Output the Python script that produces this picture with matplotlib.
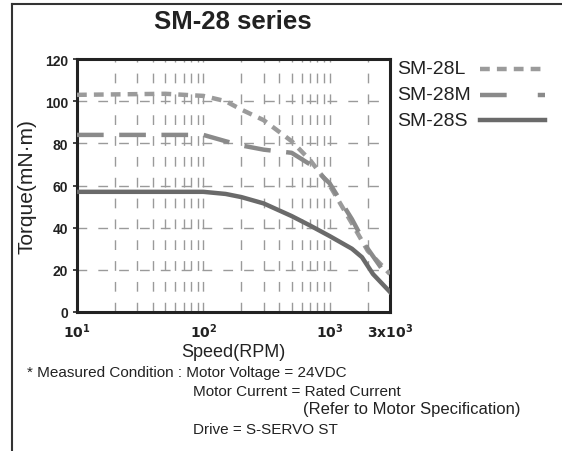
import matplotlib
matplotlib.use("Agg")
import matplotlib.pyplot as plt
from matplotlib.lines import Line2D
from matplotlib.ticker import FixedLocator, NullFormatter

plt.rcParams['font.family'] = ['Liberation Sans', 'DejaVu Sans']

title = "SM-28 series"
series_names = ["SM-28L", "SM-28M", "SM-28S"]

speed_L = [10, 50, 100, 150, 200, 300, 500, 700, 1000, 1500, 2000, 3000]
torque_L = [103, 103.5, 102.5, 100, 96, 91, 81, 72, 60, 42, 29, 18]

speed_M = [10, 100, 150, 200, 300, 500, 700, 1000, 1500, 2000, 3000]
torque_M = [84, 84, 81, 79, 77, 75.5, 70, 61, 44, 30, 15]

speed_S = [10, 100, 150, 200, 300, 500, 700, 1000, 1500, 1800, 2200, 3000]
torque_S = [57, 57, 56, 54.5, 51.5, 45.5, 41, 36, 30, 26, 18, 9.5]

x_ticks = [10, 100, 1000, 3000]
x_ticklabels = [r"$\mathbf{10^1}$", r"$\mathbf{10^2}$", r"$\mathbf{10^3}$", r"$\mathbf{3x10^3}$"]
y_ticks = [0, 20, 40, 60, 80, 100, 120]

notes = [
    "* Measured Condition : Motor Voltage = 24VDC",
    "Motor Current = Rated Current",
    "(Refer to Motor Specification)",
    "Drive = S-SERVO ST",
]

W, H = 562, 452
fig = plt.figure(figsize=(W / 100, H / 100), dpi=100)
ax = fig.add_axes([77 / W, 1 - 313 / H, (390 - 77) / W, (313 - 60) / H])

ax.set_xscale('log')
ax.set_xlim(10, 3000)
ax.set_ylim(0, 120)

minor = [m * 10 ** e for e in (1, 2, 3) for m in range(2, 10) if m * 10 ** e < 3000]
grid_x = minor + [100, 1000]
for gx in grid_x:
    ax.axvline(gx, color='#9a9a9a', lw=1.0, ls=(0, (7, 8)), zorder=1)
for gy in [20, 40, 60, 80, 100]:
    ax.axhline(gy, color='#9a9a9a', lw=1.0, ls=(0, (7, 8)), zorder=1)

ax.plot(speed_L, torque_L, color='#9b9b9b', lw=3.2, ls=(0, (2.2, 1.6)), zorder=3)
ax.plot(speed_M, torque_M, color='#8a8a8a', lw=3.2, ls=(0, (6, 3.5)), zorder=3)
ax.plot(speed_S, torque_S, color='#6a6a6a', lw=3.2, zorder=4)

ax.xaxis.set_major_locator(FixedLocator(x_ticks))
ax.set_xticklabels(x_ticklabels)
ax.xaxis.set_minor_locator(FixedLocator([]))
ax.xaxis.set_minor_formatter(NullFormatter())
ax.set_yticks(y_ticks)
ax.set_yticklabels([str(v) for v in y_ticks], fontweight='bold')
ax.tick_params(axis='both', labelsize=10, length=3, width=1.2, direction='out', colors='#222222')
ax.tick_params(axis='x', length=0, pad=7)
for s in ax.spines.values():
    s.set_linewidth(2.2)
    s.set_color('#222222')

ax.set_xlabel("Speed(RPM)", fontsize=13, labelpad=2, color='#222222')
ax.set_ylabel("Torque(mN·m)", fontsize=15, labelpad=6, color='#222222')

fig.text(233 / W, 1 - 22 / H, title, fontsize=18.5, fontweight='bold', ha='center', va='center', color='#222222')

# legend
leg_y = [70, 96, 121]
styles = [dict(color='#9b9b9b', lw=3.2, ls=(0, (2.2, 1.6))),
          dict(color='#8a8a8a', lw=3.2, ls=(0, (6, 7))),
          dict(color='#6a6a6a', lw=3.2, ls='-')]
for name, y, st in zip(series_names, leg_y, styles):
    fig.text(397 / W, 1 - y / H, name, fontsize=14, ha='left', va='center', color='#222222')
    fig.add_artist(Line2D([480 / W, 545 / W], [1 - y / H, 1 - y / H], transform=fig.transFigure, **st))

# notes
fig.text(27 / W, 1 - 373 / H, notes[0], fontsize=11, ha='left', va='center', color='#222222')
fig.text(193 / W, 1 - 392 / H, notes[1], fontsize=11, ha='left', va='center', color='#222222')
fig.text(303 / W, 1 - 410 / H, notes[2], fontsize=12, ha='left', va='center', color='#222222')
fig.text(193 / W, 1 - 430 / H, notes[3], fontsize=11, ha='left', va='center', color='#222222')

# outer frame (top & left)
fig.add_artist(Line2D([12 / W, 1], [1 - 5 / H, 1 - 5 / H], transform=fig.transFigure, color='#333333', lw=1.5))
fig.add_artist(Line2D([12 / W, 12 / W], [0, 1 - 5 / H], transform=fig.transFigure, color='#333333', lw=1.5))

fig.savefig("out.png", dpi=100)
